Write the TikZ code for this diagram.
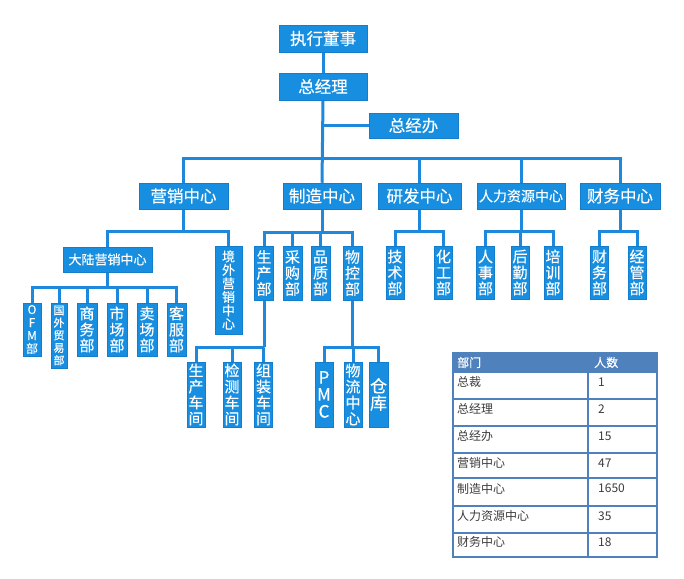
\documentclass[tikz,border=0pt]{standalone}
\usepackage{fontspec}
\setmainfont{Noto Sans CJK SC}
\newfontfamily\boxfont[FakeBold=0.3]{Noto Sans CJK SC}
\usetikzlibrary{backgrounds}
\definecolor{boxblue}{RGB}{23,142,223}
\definecolor{boxedge}{RGB}{20,126,206}
\definecolor{lineblue}{RGB}{30,136,220}
\definecolor{tblue}{RGB}{79,129,189}
\definecolor{ttext}{RGB}{60,60,60}
\begin{document}
\begin{tikzpicture}[x=1pt,y=-1pt,
  box/.style={fill=boxblue, draw=boxedge, line width=0.5pt, text=white, inner sep=0pt, align=center},
  conn/.style={draw=lineblue, line width=3pt, line join=miter},
  fbig/.style={font=\boxfont\fontsize{16.5}{18}\selectfont},
  fmid/.style={font=\boxfont\fontsize{14}{16}\selectfont},
  fsm/.style={font=\boxfont\fontsize{13}{13.5}\selectfont},
  vt/.style={font=\boxfont\fontsize{15}{16}\selectfont},
  vofm/.style={font=\boxfont\fontsize{12}{13}\selectfont},
  vtiny/.style={font=\boxfont\fontsize{11}{12.5}\selectfont},
  vbig/.style={font=\boxfont\fontsize{17}{17}\selectfont},
  tline/.style={draw=tblue, line width=2pt},
  th/.style={anchor=west, inner sep=0pt, text=white, font=\boxfont\fontsize{12}{14}\selectfont},
  td/.style={anchor=west, inner sep=0pt, text=ttext, font=\fontsize{12}{14}\selectfont}]
\useasboundingbox (0,0) rectangle (684,578);

% ---- nodes ----
\node[box,fbig,minimum width=88,minimum height=27] (zs) at (323,38.5) {执行董事};
\node[box,fbig,minimum width=88,minimum height=27] (zjl) at (323,86.5) {总经理};
\node[box,fbig,minimum width=89,minimum height=25] (zjb) at (413.5,125.5) {总经办};

\node[box,fbig,minimum width=89,minimum height=26] (yx) at (183.5,196) {营销中心};
\node[box,fbig,minimum width=78,minimum height=26] (zz) at (322,196) {制造中心};
\node[box,fbig,minimum width=83,minimum height=26] (yf) at (419.5,196) {研发中心};
\node[box,fmid,minimum width=88,minimum height=26] (rl) at (521,196) {人力资源中心};
\node[box,fbig,minimum width=80,minimum height=26] (cw) at (620,196) {财务中心};

\node[box,fsm,minimum width=89,minimum height=25] (dl) at (107.5,259.5) {大陆营销中心};
\node[box,fsm,minimum width=27,minimum height=88] (jw) at (228.5,290) {境\\外\\营\\销\\中\\心};

\node[box,vt,minimum width=19,minimum height=54] (scb) at (264,273) {生\\产\\部};
\node[box,vt,minimum width=19,minimum height=54] (cgb) at (292.5,273) {采\\购\\部};
\node[box,vt,minimum width=19,minimum height=54] (pzb) at (320.5,273) {品\\质\\部};
\node[box,vt,minimum width=19,minimum height=54] (wkb) at (352.5,273) {物\\控\\部};

\node[box,vt,minimum width=18,minimum height=53] (jsb) at (395,272.5) {技\\术\\部};
\node[box,vt,minimum width=18,minimum height=53] (hgb) at (443.5,272.5) {化\\工\\部};
\node[box,vt,minimum width=18,minimum height=53] (rsb) at (485.5,272.5) {人\\事\\部};
\node[box,vt,minimum width=18,minimum height=53] (hqb) at (520,272.5) {后\\勤\\部};
\node[box,vt,minimum width=18,minimum height=53] (pxb) at (553,272.5) {培\\训\\部};
\node[box,vt,minimum width=18,minimum height=53] (cwb) at (599.5,272.5) {财\\务\\部};
\node[box,vt,minimum width=18,minimum height=53] (jgb) at (637,272.5) {经\\管\\部};

\node[box,vofm,minimum width=18,minimum height=53] (m1) at (32,329.5) {O\\F\\M\\部};
\node[box,vtiny,minimum width=16,minimum height=65] (m2) at (59,335.5) {国\\外\\贸\\易\\部};
\node[box,vt,minimum width=20,minimum height=53] (m3) at (87,329.5) {商\\务\\部};
\node[box,vt,minimum width=20,minimum height=53] (m4) at (117,329.5) {市\\场\\部};
\node[box,vt,minimum width=20,minimum height=53] (m5) at (147,329.5) {卖\\场\\部};
\node[box,vt,minimum width=19,minimum height=53] (m6) at (176.5,329.5) {客\\服\\部};

\node[box,vt,minimum width=18,minimum height=65] (p1) at (196,394.5) {生\\产\\车\\间};
\node[box,vt,minimum width=18,minimum height=65] (p2) at (232,394.5) {检\\测\\车\\间};
\node[box,vt,minimum width=18,minimum height=65] (p3) at (263.5,394.5) {组\\装\\车\\间};
\node[box,vbig,minimum width=18,minimum height=65] (q1) at (324,394.5) {P\\M\\C};
\node[box,vt,minimum width=18,minimum height=65] (q2) at (353,394.5) {物\\流\\中\\心};
\node[box,vbig,minimum width=19,minimum height=65] (q3) at (378.5,394.5) {仓\\库};

% ---- bus levels ----
\coordinate (y158) at (0,158);
\coordinate (y231) at (0,231);
\coordinate (y232) at (0,232);
\coordinate (y287) at (0,287);
\coordinate (y347) at (0,347);

% ---- connectors (behind the boxes) ----
\begin{scope}[on background layer]
\fill[white] (0,0) rectangle (684,578);
\draw[conn] (zs.south) -- (zjl.north);
\draw[conn] (zjl.south) -- (zz.north);
\draw[conn] (zjl.south |- zjb.west) -- (zjb.west);
\draw[conn] (yx.north) |- (zz.north |- y158) -| (cw.north);
\draw[conn] (yf.north) -- (yf.north |- y158);
\draw[conn] (rl.north) -- (rl.north |- y158);
% marketing
\draw[conn] (yx.south) -- (yx.south |- y231);
\draw[conn] (dl.north) |- (yx.south |- y231) -| (jw.north);
\draw[conn] (dl.south) -- (dl.south |- y287);
\draw[conn] (m1.north) |- (dl.south |- y287) -| (m6.north);
\foreach \n in {m2,m3,m4,m5} \draw[conn] (\n.north) -- (\n.north |- y287);
% manufacturing
\draw[conn] (zz.south) -- (zz.south |- y232);
\draw[conn] (scb.north) |- (zz.south |- y232) -| (wkb.north);
\foreach \n in {cgb,pzb} \draw[conn] (\n.north) -- (\n.north |- y232);
\draw[conn] (scb.south) -- (scb.south |- y347);
\draw[conn] (p1.north) |- (scb.south |- y347) -- (p3.north |- y347) -- (p3.north);
\draw[conn] (p2.north) -- (p2.north |- y347);
\draw[conn] (wkb.south) -- (wkb.south |- y347);
\draw[conn] (q1.north) |- (wkb.south |- y347) -| (q3.north);
\draw[conn] (q2.north) -- (q2.north |- y347);
% R&D
\draw[conn] (yf.south) -- (yf.south |- y231);
\draw[conn] (jsb.north) |- (yf.south |- y231) -| (hgb.north);
% HR
\draw[conn] (rl.south) -- (rl.south |- y231);
\draw[conn] (rsb.north) |- (rl.south |- y231) -| (pxb.north);
\draw[conn] (hqb.north) -- (hqb.north |- y231);
% finance
\draw[conn] (cw.south) -- (cw.south |- y231);
\draw[conn] (cwb.north) |- (cw.south |- y231) -| (jgb.north);
\end{scope}

% ---- table ----
\fill[tblue] (453,353) rectangle (657,372);
\draw[tline] (453,353) rectangle (657,557);
\draw[tline] (588,372) -- (588,557);
\foreach \yy in {372,399,426,453,478,506,533} \draw[tline] (453,\yy) -- (657,\yy);
\node[th] (h1) at (457,362.5) {部门};
\node[th] (h2) at (594,362.5) {人数};
\node[td] (r1a) at (457,382) {总裁};        \node[td] (r1b) at (598,382) {1};
\node[td] (r2a) at (457,409) {总经理};      \node[td] (r2b) at (598,409) {2};
\node[td] (r3a) at (457,436) {总经办};      \node[td] (r3b) at (598,436) {15};
\node[td] (r4a) at (457,463) {营销中心};    \node[td] (r4b) at (598,463) {47};
\node[td] (r5a) at (457,488.5) {制造中心};  \node[td] (r5b) at (598,488.5) {1650};
\node[td] (r6a) at (457,516) {人力资源中心};\node[td] (r6b) at (598,516) {35};
\node[td] (r7a) at (457,542) {财务中心};    \node[td] (r7b) at (598,542) {18};
\end{tikzpicture}
\end{document}
